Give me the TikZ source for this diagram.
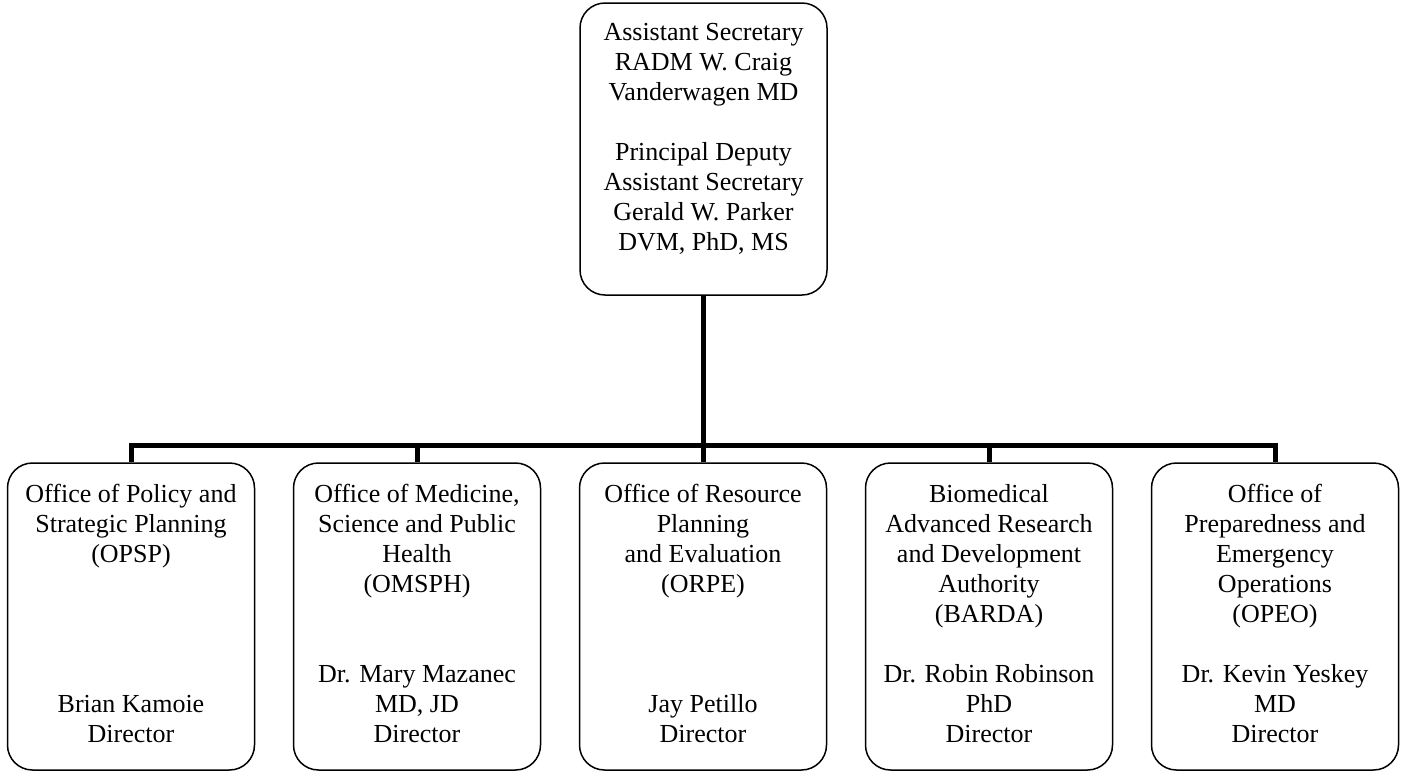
\documentclass[tikz,border=0pt]{standalone}
\usepackage{fontspec}
\setmainfont{Liberation Serif}
\begin{document}
\begin{tikzpicture}[x=1pt,y=-1pt,
  orgbox/.style={draw, line width=1.5pt, rounded corners=25pt,
    minimum width=247pt, minimum height=307pt, inner sep=0pt,
    align=center, font=\fontsize{26}{30}\selectfont},
  topbox/.style={orgbox, minimum height=292pt},
  conn/.style={line width=5pt, line join=miter}]
\useasboundingbox (0,0) rectangle (1404,772);

\node[topbox] (top) at (703.5,149) {\strut Assistant Secretary\\ RADM W. Craig\\ Vanderwagen MD\\ \strut\\ Principal Deputy\\ Assistant Secretary\\ Gerald W. Parker\\ DVM, PhD, MS\rule[-29pt]{0pt}{0pt}};

\node[orgbox] (b1) at (131,616.5) {\strut Office of Policy and\\ Strategic Planning\\ (OPSP)\\ \strut\\ \strut\\ \strut\\ \strut\\ Brian Kamoie\\ Director\strut};
\node[orgbox] (b2) at (417,616.5) {\strut Office of Medicine,\\ Science and Public\\ Health\\ (OMSPH)\\ \strut\\ \strut\\ Dr. Mary Mazanec\\ MD, JD\\ Director\strut};
\node[orgbox] (b3) at (703,616.5) {\strut Office of Resource\\ Planning\\ and Evaluation\\ (ORPE)\\ \strut\\ \strut\\ \strut\\ Jay Petillo\\ Director\strut};
\node[orgbox] (b4) at (989,616.5) {\strut Biomedical\\ Advanced Research\\ and Development\\ Authority\\ (BARDA)\\ \strut\\ Dr. Robin Robinson\\ PhD\\ Director\strut};
\node[orgbox] (b5) at (1275,616.5) {\strut Office of\\ Preparedness and\\ Emergency\\ Operations\\ (OPEO)\\ \strut\\ Dr. Kevin Yeskey\\ MD\\ Director\strut};

\coordinate (bus) at (703.5,445);

\draw[conn] (top.south) -- (bus);
\draw[conn] (b1.north) |- (b5.north |- bus) -- (b5.north);
\draw[conn] (b2.north) -- (b2.north |- bus);
\draw[conn] (b3.north) -- (b3.north |- bus);
\draw[conn] (b4.north) -- (b4.north |- bus);
\end{tikzpicture}
\end{document}
